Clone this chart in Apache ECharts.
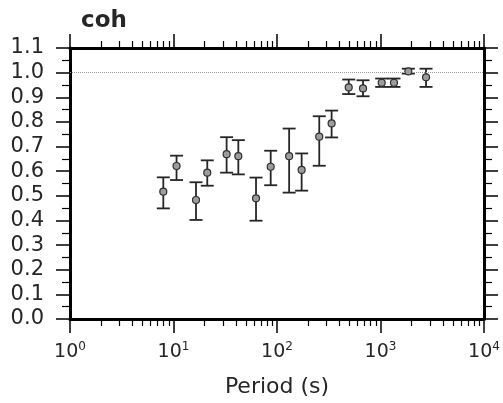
<!DOCTYPE html>
<html><head><meta charset="utf-8">
<script src="https://cdn.jsdelivr.net/npm/echarts@6/dist/echarts.min.js"></script>
<style>html,body{margin:0;padding:0;background:#fff}#c{width:503px;height:403px}</style>
</head><body><div id="c"></div>
<script>
// Data
const periods  = [7.97, 10.7, 16.5, 21.2, 32.6, 42.3, 62.7, 86.9, 131, 173, 256, 337, 493, 678, 1027, 1350, 1857, 2754];
const coh      = [0.517, 0.621, 0.483, 0.594, 0.669, 0.661, 0.490, 0.618, 0.661, 0.605, 0.740, 0.794, 0.940, 0.936, 0.959, 0.959, 1.005, 0.981];
const cohUpper = [0.575, 0.663, 0.555, 0.644, 0.738, 0.726, 0.574, 0.683, 0.773, 0.672, 0.823, 0.846, 0.972, 0.969, 0.976, 0.976, 1.016, 1.016];
const cohLower = [0.449, 0.564, 0.402, 0.541, 0.594, 0.587, 0.399, 0.543, 0.513, 0.521, 0.622, 0.737, 0.913, 0.904, 0.942, 0.942, 0.996, 0.942];
const majorX = [1, 10, 100, 1000, 10000];
const refLine = 1.0;
const titleText = 'coh';
const xName = 'Period (s)';

const minorX = [];
for (let e = 0; e < 4; e++) for (let m = 2; m <= 9; m++) minorX.push(m * Math.pow(10, e));

const FONT = 'DejaVu Sans';
const TXT = '#262626';
const G = {left: 70, top: 48, width: 414, height: 271};
const frame = {show: true, onZero: false, lineStyle: {color: '#000', width: 3}};
const majTick = {show: true, length: 14, customValues: majorX, lineStyle: {color: '#000', width: 1.5}};
const minTick = {show: true, length: 7, customValues: minorX, lineStyle: {color: '#000', width: 1.2}};

const chart = echarts.init(document.getElementById('c'), null, {renderer: 'canvas'});
const option = {
  animation: false,
  title: {text: titleText, left: 76, top: 5,
    textStyle: {fontFamily: FONT, fontSize: 23, fontWeight: 'bold', color: TXT}},
  grid: [Object.assign({}, G), Object.assign({}, G)],
  xAxis: [
    {type: 'log', logBase: 10, min: 1, max: 10000, gridIndex: 0, position: 'bottom',
      axisLine: frame, axisTick: majTick, splitLine: {show: false},
      axisLabel: {customValues: majorX, margin: 22,
        formatter: v => '{b|10}{s|' + Math.round(Math.log10(v)) + '}',
        rich: {b: {fontFamily: FONT, fontSize: 19, color: TXT, lineHeight: 22},
               s: {fontFamily: FONT, fontSize: 12, color: TXT, lineHeight: 22, verticalAlign: 'top', padding: [0, 0, 8, 0]}}},
      name: xName, nameLocation: 'middle', nameGap: 57,
      nameTextStyle: {fontFamily: FONT, fontSize: 22, color: TXT}},
    {type: 'log', logBase: 10, min: 1, max: 10000, gridIndex: 0, position: 'top',
      axisLine: frame, axisTick: majTick, axisLabel: {show: false}, splitLine: {show: false}},
    {type: 'log', logBase: 10, min: 1, max: 10000, gridIndex: 1, position: 'bottom',
      axisLine: {show: false}, axisTick: minTick, axisLabel: {show: false}, splitLine: {show: false}},
    {type: 'log', logBase: 10, min: 1, max: 10000, gridIndex: 1, position: 'top',
      axisLine: {show: false}, axisTick: minTick, axisLabel: {show: false}, splitLine: {show: false}}
  ],
  yAxis: [
    {type: 'value', gridIndex: 0, min: 0, max: 1.1, interval: 0.1, position: 'left',
      axisLine: frame, axisTick: {show: true, length: 14, lineStyle: {color: '#000', width: 1.5}},
      minorTick: {show: true, splitNumber: 2, length: 8, lineStyle: {color: '#000', width: 1.2}},
      splitLine: {show: false}, minorSplitLine: {show: false},
      axisLabel: {margin: 26, formatter: v => v.toFixed(1), fontFamily: FONT, fontSize: 21, color: TXT}},
    {type: 'value', gridIndex: 0, min: 0, max: 1.1, interval: 0.1, position: 'right',
      axisLine: frame, axisTick: {show: true, length: 14, lineStyle: {color: '#000', width: 1.5}},
      minorTick: {show: true, splitNumber: 2, length: 8, lineStyle: {color: '#000', width: 1.2}},
      splitLine: {show: false}, minorSplitLine: {show: false}, axisLabel: {show: false}},
    {type: 'value', gridIndex: 1, min: 0, max: 1.1, show: false}
  ],
  series: [
    {type: 'custom', xAxisIndex: 0, yAxisIndex: 0, z: 3,
      data: periods.map((p, i) => [p, cohLower[i], cohUpper[i]]),
      encode: {x: 0, y: [1, 2]},
      renderItem: function (params, api) {
        const x = api.value(0);
        const pLo = api.coord([x, api.value(1)]);
        const pHi = api.coord([x, api.value(2)]);
        const hw = 6.5;
        const st = {stroke: '#262626', lineWidth: 1.8, fill: null};
        return {type: 'group', children: [
          {type: 'line', shape: {x1: pLo[0], y1: pLo[1], x2: pHi[0], y2: pHi[1]}, style: st},
          {type: 'line', shape: {x1: pLo[0] - hw, y1: pLo[1], x2: pLo[0] + hw, y2: pLo[1]}, style: st},
          {type: 'line', shape: {x1: pHi[0] - hw, y1: pHi[1], x2: pHi[0] + hw, y2: pHi[1]}, style: st}
        ]};
      }},
    {type: 'scatter', xAxisIndex: 0, yAxisIndex: 0, z: 4,
      data: periods.map((p, i) => [p, coh[i]]),
      symbol: 'circle', symbolSize: 7,
      itemStyle: {color: '#9c9c9c', borderColor: '#303030', borderWidth: 1.2, opacity: 1},
      markLine: {silent: true, symbol: ['none', 'none'], label: {show: false},
        lineStyle: {type: 'dotted', color: '#9a9a9a', width: 1},
        data: [{yAxis: refLine}]}}
  ]
};
chart.setOption(option);
</script>
</body></html>
